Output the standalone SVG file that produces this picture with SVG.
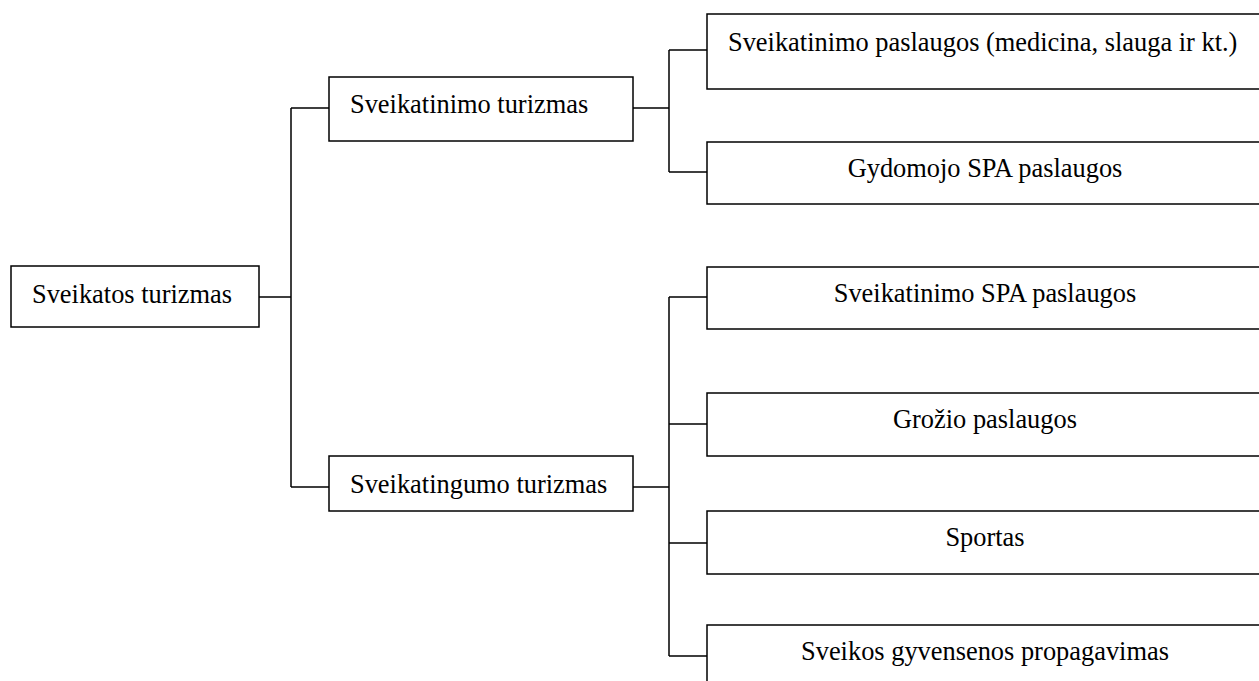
<svg xmlns="http://www.w3.org/2000/svg" width="1259" height="681" viewBox="0 0 1259 681">
<style>
.box{fill:#fff;stroke:#000;stroke-width:1.5}
.ln{fill:none;stroke:#000;stroke-width:1.5}
text{font-family:"Liberation Serif","Times New Roman",serif;font-size:26.4px;fill:#000}
.c{text-anchor:middle}
</style>
<rect width="1259" height="681" fill="#fff"/>
<g id="connectors">
<path class="ln" d="M259,297H291M291,108V487M291,108H329M291,487H329"/>
<path class="ln" d="M633,108H669M669,50V172M669,50H707M669,172H707"/>
<path class="ln" d="M633,487H669M669,297V656M669,297H707M669,424H707M669,543H707M669,656H707"/>
</g>
<g id="n-root"><rect class="box" x="11" y="266" width="248" height="61"/><text x="32" y="303">Sveikatos turizmas</text></g>
<g id="n-sveikatinimo"><rect class="box" x="329" y="77" width="304" height="64"/><text x="350" y="113">Sveikatinimo turizmas</text></g>
<g id="n-sveikatingumo"><rect class="box" x="329" y="456" width="304" height="55"/><text x="350" y="493">Sveikatingumo turizmas</text></g>
<g id="n-medicina"><rect class="box" x="707" y="14" width="560" height="75"/><text x="728" y="51">Sveikatinimo paslaugos (medicina, slauga ir kt.)</text></g>
<g id="n-gydomojo"><rect class="box" x="707" y="142" width="560" height="62"/><text class="c" x="985" y="177">Gydomojo SPA paslaugos</text></g>
<g id="n-spa"><rect class="box" x="707" y="267" width="560" height="62"/><text class="c" x="985" y="302">Sveikatinimo SPA paslaugos</text></g>
<g id="n-grozio"><rect class="box" x="707" y="393" width="560" height="63"/><text class="c" x="985" y="428">Grožio paslaugos</text></g>
<g id="n-sportas"><rect class="box" x="707" y="511" width="560" height="63"/><text class="c" x="985" y="546">Sportas</text></g>
<g id="n-gyvensenos"><rect class="box" x="707" y="625" width="560" height="80"/><text class="c" x="985" y="660">Sveikos gyvensenos propagavimas</text></g>
</svg>
